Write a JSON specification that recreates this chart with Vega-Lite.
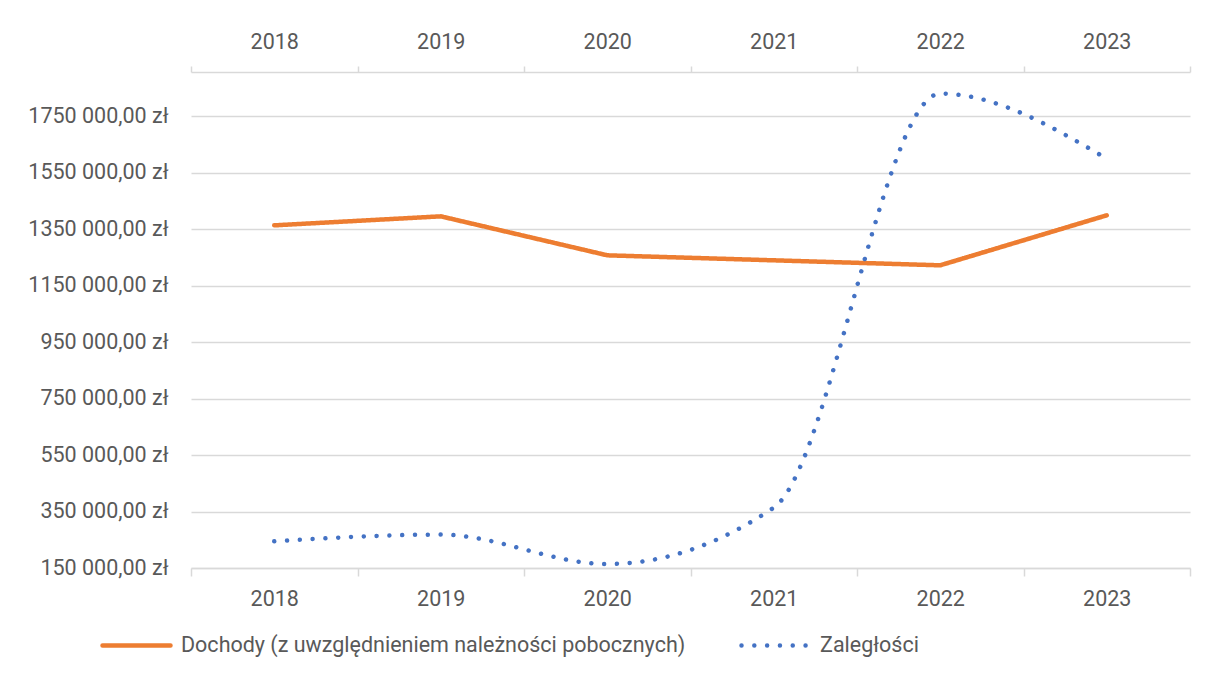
{
  "$schema": "https://vega.github.io/schema/vega-lite/v6.json",
  "width": 999,
  "height": 496,
  "autosize": {"type": "none"},
  "padding": {"left": 191, "top": 72, "right": 19, "bottom": 118},
  "background": "white",
  "config": {
    "view": {"stroke": null},
    "font": "Roboto",
    "axis": {
      "labelFont": "Roboto",
      "labelFontSize": 21.5,
      "labelColor": "#595959",
      "title": null,
      "domainColor": "#d9d9d9",
      "domainWidth": 1.5,
      "tickColor": "#d9d9d9",
      "tickWidth": 1.5,
      "gridColor": "#d9d9d9",
      "gridWidth": 1.5
    }
  },
  "data": {
    "values": [
      {"year": "2018", "series": "Dochody (z uwzględnieniem należności pobocznych)", "value": 1363800},
      {"year": "2019", "series": "Dochody (z uwzględnieniem należności pobocznych)", "value": 1395700},
      {"year": "2020", "series": "Dochody (z uwzględnieniem należności pobocznych)", "value": 1257600},
      {"year": "2021", "series": "Dochody (z uwzględnieniem należności pobocznych)", "value": 1239900},
      {"year": "2022", "series": "Dochody (z uwzględnieniem należności pobocznych)", "value": 1222200},
      {"year": "2023", "series": "Dochody (z uwzględnieniem należności pobocznych)", "value": 1399300},
      {"year": "2018", "series": "Zaległości", "value": 244600},
      {"year": "2019", "series": "Zaległości", "value": 268300},
      {"year": "2020", "series": "Zaległości", "value": 164200},
      {"year": "2021", "series": "Zaległości", "value": 363900},
      {"year": "2022", "series": "Zaległości", "value": 1830300},
      {"year": "2023", "series": "Zaległości", "value": 1600000}
    ]
  },
  "layer": [
    {
      "transform": [{"filter": "datum.series !== 'Zaległości'"}],
      "mark": {"type": "line", "strokeWidth": 4.5, "strokeCap": "round", "strokeJoin": "round", "interpolate": "linear"},
      "encoding": {
        "x": {
          "field": "year", "type": "ordinal",
          "scale": {"type": "band", "paddingInner": 0, "paddingOuter": 0},
          "axis": {"orient": "bottom", "labelAngle": 0, "tickBand": "extent", "tickSize": 8, "labelPadding": 12, "grid": false}
        },
        "y": {
          "field": "value", "type": "quantitative",
          "scale": {"domain": [150000, 1907000], "nice": false, "zero": false},
          "axis": {
            "values": [150000, 350000, 550000, 750000, 950000, 1150000, 1350000, 1550000, 1750000],
            "labelExpr": "floor(datum.value / 1000) + ' 000,00 zł'",
            "domain": false, "ticks": false, "grid": true, "labelPadding": 23
          }
        },
        "color": {
          "field": "series", "type": "nominal",
          "scale": {"domain": ["Dochody (z uwzględnieniem należności pobocznych)", "Zaległości"], "range": ["#ED7D31", "#4472C4"]},
          "legend": {
            "title": null, "orient": "none", "legendX": -91, "legendY": 537, "direction": "horizontal",
            "symbolType": "stroke", "symbolSize": 4624, "symbolStrokeWidth": 4.5,
            "labelFont": "Roboto", "labelFontSize": 21.5, "labelColor": "#595959", "labelOffset": 8,
            "columnPadding": 46, "labelLimit": 800,
            "encode": {"symbols": {"update": {"strokeCap": {"value": "round"}}}}
          }
        },
        "strokeDash": {
          "field": "series", "type": "nominal",
          "scale": {"domain": ["Dochody (z uwzględnieniem należności pobocznych)", "Zaległości"], "range": [[1, 0], [0.01, 12.8]]},
          "legend": {
            "title": null, "orient": "none", "legendX": -91, "legendY": 537, "direction": "horizontal",
            "symbolType": "stroke", "symbolSize": 4624, "symbolStrokeWidth": 4.5,
            "labelFont": "Roboto", "labelFontSize": 21.5, "labelColor": "#595959", "labelOffset": 8,
            "columnPadding": 46, "labelLimit": 800,
            "encode": {"symbols": {"update": {"strokeCap": {"value": "round"}}}}
          }
        }
      }
    },
    {
      "transform": [{"filter": "datum.series === 'Zaległości'"}],
      "mark": {"type": "line", "strokeWidth": 4.5, "strokeCap": "round", "strokeJoin": "round", "interpolate": "monotone"},
      "encoding": {
        "x": {
          "field": "year", "type": "ordinal",
          "scale": {"type": "band", "paddingInner": 0, "paddingOuter": 0},
          "axis": {"orient": "top", "labelAngle": 0, "tickBand": "extent", "tickSize": 6, "labelPadding": 13, "grid": false}
        },
        "y": {"field": "value", "type": "quantitative"},
        "color": {"field": "series", "type": "nominal"},
        "strokeDash": {"field": "series", "type": "nominal"}
      }
    }
  ],
  "resolve": {"axis": {"x": "independent"}}
}
